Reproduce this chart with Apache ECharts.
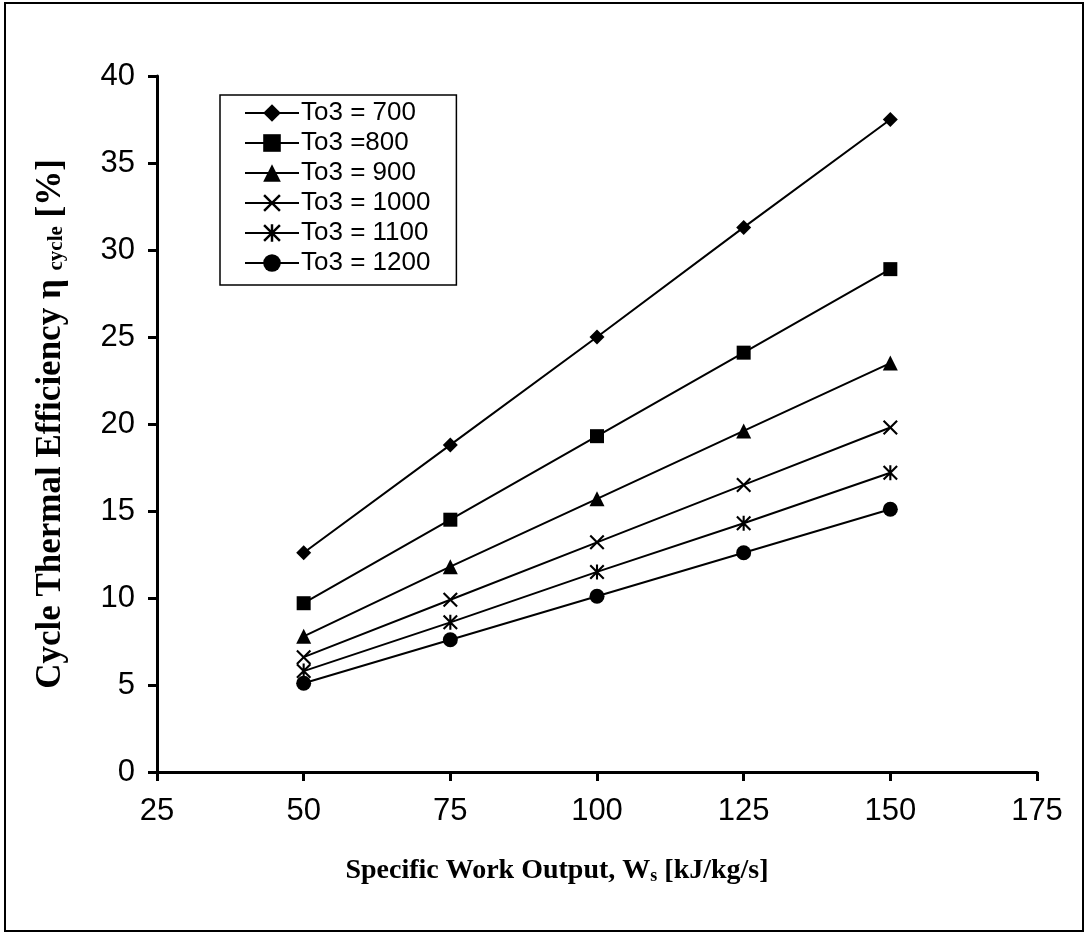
<!DOCTYPE html>
<html>
<head>
<meta charset="utf-8">
<script src="https://cdn.jsdelivr.net/npm/echarts@6/dist/echarts.min.js"></script>
<style>html,body{margin:0;padding:0;background:#fff;}#c{width:1087px;height:934px;}</style>
</head>
<body>
<div id="c"></div>
<script>
const xValues = [50, 75, 100, 125, 150];
const seriesNames = ['To3 = 700', 'To3 =800', 'To3 = 900', 'To3 = 1000', 'To3 = 1100', 'To3 = 1200'];
const eta700 = [12.6, 18.8, 25.0, 31.3, 37.5];
const eta800 = [9.7, 14.5, 19.3, 24.1, 28.9];
const eta900 = [7.8, 11.8, 15.7, 19.6, 23.5];
const eta1000 = [6.6, 9.9, 13.2, 16.5, 19.8];
const eta1100 = [5.8, 8.6, 11.5, 14.3, 17.2];
const eta1200 = [5.1, 7.6, 10.1, 12.6, 15.1];
const xTicks = [25, 50, 75, 100, 125, 150, 175];
const yTicks = [0, 5, 10, 15, 20, 25, 30, 35, 40];

const allSeries = [eta700, eta800, eta900, eta1000, eta1100, eta1200];
const xSym = 'path://M0,1 L1,0 L5,4 L9,0 L10,1 L6,5 L10,9 L9,10 L5,6 L1,10 L0,9 L4,5 Z';
const starSym = 'path://M0,1 L1,0 L5,4 L9,0 L10,1 L6,5 L10,9 L9,10 L5,6 L1,10 L0,9 L4,5 Z M4.3,0 L5.7,0 L5.7,10 L4.3,10 Z';
const symbols = ['diamond', 'rect', 'triangle', xSym, starSym, 'circle'];
const sizes = [15, 14, 15, 15, 15, 15];

const chart = echarts.init(document.getElementById('c'));
const sans = 'Liberation Sans, Arial, sans-serif';
const serif = 'Liberation Serif, Times New Roman, serif';

chart.setOption({
  backgroundColor: '#fff',
  animation: false,
  graphic: [{
    type: 'rect',
    shape: { x: 5, y: 3, width: 1078, height: 928 },
    style: { fill: 'none', stroke: '#000', lineWidth: 2 },
    silent: true
  }],
  grid: { left: 157, right: 50, top: 76, bottom: 162 },
  legend: {
    orient: 'vertical',
    left: 220, top: 95,
    padding: [5, 26, 9, 24],
    itemGap: 4,
    itemWidth: 54, itemHeight: 22,
    borderColor: '#000', borderWidth: 1.5,
    backgroundColor: '#fff',
    textStyle: { fontFamily: sans, fontSize: 26, lineHeight: 26, color: '#000', padding: [0, 0, 0, -3] },
    data: seriesNames
  },
  xAxis: {
    type: 'value', min: xTicks[0], max: xTicks[xTicks.length - 1], interval: 25,
    splitLine: { show: false },
    axisLine: { lineStyle: { color: '#000', width: 3 } },
    axisTick: { length: 9, lineStyle: { color: '#000', width: 3 } },
    axisLabel: { fontFamily: sans, fontSize: 31, color: '#000', margin: 24 },
    name: 'Specific Work Output, W{sub|s} [kJ/kg/s]',
    nameLocation: 'middle', nameGap: 85,
    nameTextStyle: {
      fontFamily: serif, fontWeight: 'bold', fontSize: 28, color: '#000',
      padding: [0, 80, 0, 0],
      rich: { sub: { fontFamily: serif, fontWeight: 'bold', fontSize: 18, color: '#000', verticalAlign: 'bottom', padding: [10, 0, 0, 0] } }
    }
  },
  yAxis: {
    type: 'value', min: yTicks[0], max: yTicks[yTicks.length - 1], interval: 5,
    splitLine: { show: false },
    axisLine: { lineStyle: { color: '#000', width: 3 } },
    axisTick: { length: 9, lineStyle: { color: '#000', width: 3 } },
    axisLabel: { fontFamily: sans, fontSize: 31, color: '#000', margin: 22 },
    name: 'Cycle Thermal Efficiency \u03b7 {sub|cycle} [%]',
    nameLocation: 'middle', nameGap: 89,
    nameTextStyle: {
      fontFamily: serif, fontWeight: 'bold', fontSize: 35, color: '#000',
      rich: { sub: { fontFamily: serif, fontWeight: 'bold', fontSize: 21, color: '#000', padding: [12, 0, 0, 0] } }
    }
  },
  series: seriesNames.map((n, i) => ({
    name: n,
    type: 'line',
    data: xValues.map((x, j) => [x, allSeries[i][j]]),
    symbol: symbols[i],
    symbolSize: sizes[i],
    showAllSymbol: true,
    lineStyle: { color: '#000', width: 2 },
    itemStyle: { color: '#000', borderColor: '#000', borderWidth: 0 },
    z: 10 - i
  }))
});
</script>
</body>
</html>
